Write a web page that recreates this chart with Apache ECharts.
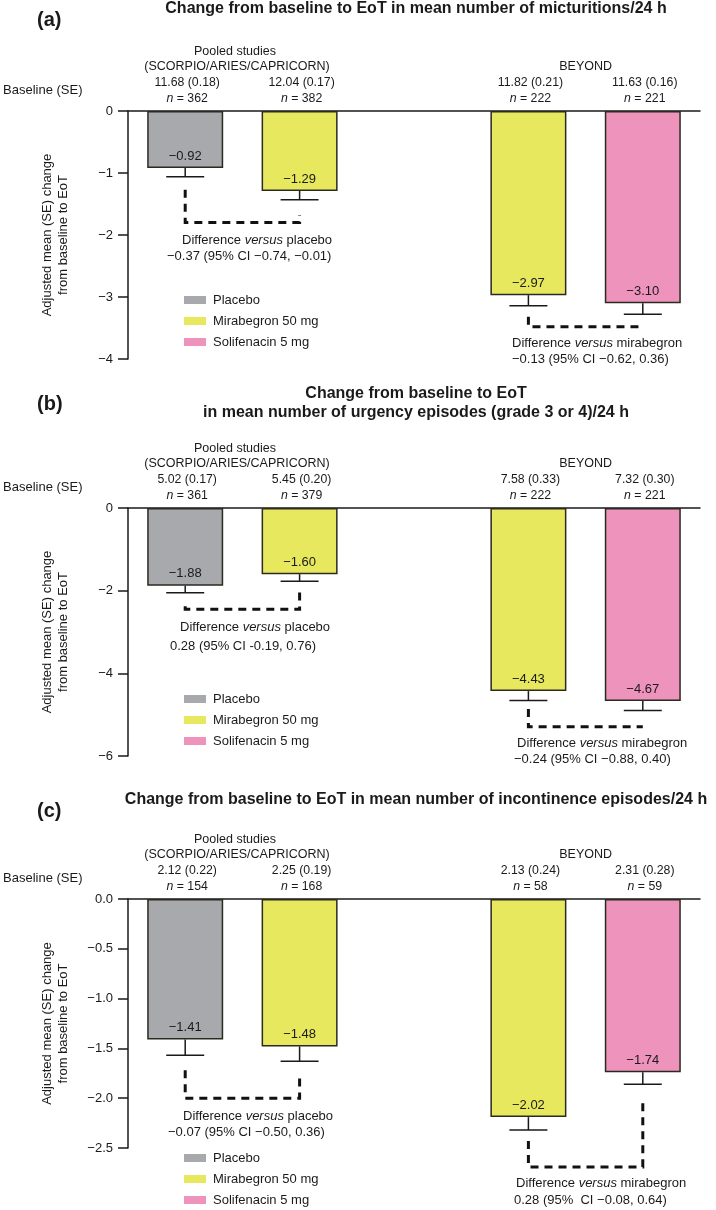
<!DOCTYPE html>
<html>
<head>
<meta charset="utf-8">
<script src="https://cdn.jsdelivr.net/npm/echarts@6/dist/echarts.min.js"></script>
<style>
html,body{margin:0;padding:0;background:#fff;}
#c{width:716px;height:1210px;}
</style>
</head>
<body>
<div id="c"></div>
<script>
// ---------- DATA ----------
const categories = ['Placebo (pooled)', 'Mirabegron 50 mg (pooled)', '', 'Mirabegron 50 mg (BEYOND)', 'Solifenacin 5 mg (BEYOND)'];
const groups = ['Placebo', 'Mirabegron 50 mg', null, 'Mirabegron 50 mg', 'Solifenacin 5 mg'];
const seriesNames = ['Placebo', 'Mirabegron 50 mg', 'Solifenacin 5 mg'];

// Panel (a) micturitions
const meansA = [-0.92, -1.29, null, -2.97, -3.10];
const seA = [0.14, 0.14, null, 0.17, 0.18];
const labelsA = ['−0.92', '−1.29', '', '−2.97', '−3.10'];
const baselineA = ['11.68 (0.18)', '12.04 (0.17)', '', '11.82 (0.21)', '11.63 (0.16)'];
const nA = ['362', '382', '', '222', '221'];
const ticksA = { min: -4, max: 0, interval: 1 };
const connA = [[0, -1.27, 1, -1.68, -1.80], [3, -3.32, 4, -3.48, -3.48]];

// Panel (b) urgency episodes
const meansB = [-1.88, -1.60, null, -4.43, -4.67];
const seB = [0.17, 0.17, null, 0.23, 0.23];
const labelsB = ['−1.88', '−1.60', '', '−4.43', '−4.67'];
const baselineB = ['5.02 (0.17)', '5.45 (0.20)', '', '7.58 (0.33)', '7.32 (0.30)'];
const nB = ['361', '379', '', '222', '221'];
const ticksB = { min: -6, max: 0, interval: 2 };
const connB = [[0, -2.38, 1, -1.98, -2.45], [3, -4.86, 4, -5.29, -5.29]];

// Panel (c) incontinence episodes
const meansC = [-1.41, -1.48, null, -2.19, -1.74];
const seC = [0.16, 0.15, null, 0.13, 0.12];
const labelsC = ['−1.41', '−1.48', '', '−2.02', '−1.74'];
const baselineC = ['2.12 (0.22)', '2.25 (0.19)', '', '2.13 (0.24)', '2.31 (0.28)'];
const nC = ['154', '168', '', '58', '59'];
const ticksC = { min: -2.5, max: 0, interval: 0.5 };
const connC = [[0, -1.72, 1, -1.76, -2.00], [3, -2.43, 4, -1.99, -2.69]];

const titleA = ['Change from baseline to EoT in mean number of micturitions/24 h'];
const titleB = ['Change from baseline to EoT', 'in mean number of urgency episodes (grade 3 or 4)/24 h'];
const titleC = ['Change from baseline to EoT in mean number of incontinence episodes/24 h'];
const diffA = [['placebo', '−0.37 (95% CI −0.74, −0.01)'], ['mirabegron', '−0.13 (95% CI −0.62, 0.36)']];
const diffB = [['placebo', '0.28 (95% CI -0.19, 0.76)'], ['mirabegron', '−0.24 (95% CI −0.88, 0.40)']];
const diffC = [['placebo', '−0.07 (95% CI −0.50, 0.36)'], ['mirabegron', '0.28 (95%  CI −0.08, 0.64)']];

// ---------- STYLE / LAYOUT ----------
const FONT = '"Liberation Sans", Arial, Helvetica, sans-serif';
const INK = '#1a1a1a';
const colors = { 'Placebo': '#a7a9ac', 'Mirabegron 50 mg': '#e8e85e', 'Solifenacin 5 mg': '#ee93bb' };
const GL = 128, GW = 572;
const panels = [
  { tag: '(a)', title: titleA, means: meansA, se: seA, labels: labelsA, base: baselineA, n: nA, ticks: ticksA, conn: connA, diff: diffA,
    top: 111, height: 248, dec: 0, tagY: 20, titleY: [9], legendTop: 292,
    diffPos: [[182, 240, 167, 256], [512, 343, 512, 359]] },
  { tag: '(b)', title: titleB, means: meansB, se: seB, labels: labelsB, base: baselineB, n: nB, ticks: ticksB, conn: connB, diff: diffB,
    top: 508, height: 248, dec: 0, tagY: 404, titleY: [394, 413], legendTop: 691,
    diffPos: [[180, 627, 170, 646], [517, 743, 514, 759]] },
  { tag: '(c)', title: titleC, means: meansC, se: seC, labels: labelsC, base: baselineC, n: nC, ticks: ticksC, conn: connC, diff: diffC,
    top: 899, height: 249, dec: 1, tagY: 811, titleY: [800], legendTop: 1150,
    diffPos: [[183, 1116, 168, 1132], [516, 1183, 514, 1200]] }
];

function txt(x, y, text, o) {
  o = o || {};
  return { type: 'text', x: x, y: y, silent: true, z: 100,
    style: Object.assign({ text: text, fill: INK, fontFamily: FONT, fontSize: o.size || 13,
      fontWeight: o.weight || 'normal', align: o.align || 'center', verticalAlign: 'middle' }, o.extra || {}) };
}
function richTxt(x, y, text, size, align) {
  return { type: 'text', x: x, y: y, silent: true, z: 100,
    style: { text: text, fill: INK, fontFamily: FONT, fontSize: size, align: align || 'center', verticalAlign: 'middle',
      rich: { i: { fontStyle: 'italic', fontFamily: FONT, fontSize: size, fill: INK },
              r: { fontFamily: FONT, fontSize: size, fill: INK } } } };
}

const grid = [], xAxis = [], yAxis = [], series = [], legend = [], graphic = [];
const band = GW / categories.length;
panels.forEach((p, k) => {
  grid.push({ left: GL, top: p.top, width: GW, height: p.height, containLabel: false });
  xAxis.push({ type: 'category', gridIndex: k, data: categories, position: 'top',
    axisLine: { show: true, onZero: true, lineStyle: { color: INK, width: 1.5 } },
    axisTick: { show: false }, axisLabel: { show: false }, splitLine: { show: false } });
  yAxis.push({ type: 'value', gridIndex: k, min: p.ticks.min, max: p.ticks.max, interval: p.ticks.interval,
    name: 'Adjusted mean (SE) change\nfrom baseline to EoT', nameLocation: 'middle', nameGap: 57, nameRotate: 90,
    nameTextStyle: { fontFamily: FONT, fontSize: 13, color: INK, lineHeight: 16 },
    axisLine: { show: true, lineStyle: { color: INK, width: 1.5 } },
    axisTick: { show: true, length: 10, lineStyle: { color: INK, width: 1.5 } },
    axisLabel: { fontFamily: FONT, fontSize: 13, color: INK, margin: 15,
      formatter: v => (v < 0 ? '−' : '') + Math.abs(v).toFixed(p.dec) },
    splitLine: { show: false } });
  seriesNames.forEach(nm => {
    series.push({ type: 'bar', name: nm, xAxisIndex: k, yAxisIndex: k, barWidth: 76, barGap: '-100%',
      data: p.means.map((m, i) => groups[i] === nm ? m : '-'),
      itemStyle: { color: colors[nm], borderColor: '#2a2a20', borderWidth: 1.5 }, silent: true, z: 2 });
  });
  // error bars + value labels
  series.push({ type: 'custom', xAxisIndex: k, yAxisIndex: k, z: 5, silent: true,
    data: p.means.map((m, i) => m == null ? null : [i, m, p.se[i]]).filter(d => d),
    renderItem: (params, api) => {
      const i = api.value(0), m = api.value(1), s = api.value(2);
      const a = api.coord([i, m]), b = api.coord([i, m - s]);
      return { type: 'group', children: [
        { type: 'line', shape: { x1: a[0], y1: a[1], x2: b[0], y2: b[1] }, style: { stroke: INK, lineWidth: 1.5 } },
        { type: 'line', shape: { x1: b[0] - 19, y1: b[1], x2: b[0] + 19, y2: b[1] }, style: { stroke: INK, lineWidth: 1.5 } },
        { type: 'text', x: a[0], y: a[1] - 12, style: { text: p.labels[i], fontFamily: FONT, fontSize: 13, fill: INK, align: 'center', verticalAlign: 'middle' } }
      ] };
    } });
  // dashed connectors
  series.push({ type: 'custom', xAxisIndex: k, yAxisIndex: k, z: 6, silent: true,
    data: p.conn,
    renderItem: (params, api) => {
      const cl = api.value(0), yl = api.value(1), cr = api.value(2), yr = api.value(3), lv = api.value(4);
      const pts = [api.coord([cl, yl]), api.coord([cl, lv]), api.coord([cr, lv]), api.coord([cr, yr])];
      return { type: 'polyline', shape: { points: pts }, style: { stroke: '#111', lineWidth: 3, lineDash: [8, 6], fill: null } };
    } });
  legend.push({ data: seriesNames, orient: 'vertical', left: 184, top: p.legendTop, padding: 0, itemGap: 5,
    itemWidth: 22, itemHeight: 8, icon: 'rect', selectedMode: false,
    itemStyle: { borderWidth: 0 },
    textStyle: { fontFamily: FONT, fontSize: 13, color: INK, lineHeight: 16, padding: [0, 0, 0, 2] } });

  // texts
  graphic.push(txt(37, p.tagY, p.tag, { size: 20, weight: 'bold', align: 'left' }));
  p.title.forEach((t, j) => graphic.push(txt(416, p.titleY[j], t, { size: 16, weight: 'bold' })));
  const z = p.top;
  const cx = i => GL + (i + 0.5) * band;
  graphic.push(txt(235, z - 59, 'Pooled studies', { size: 12.5 }));
  graphic.push(txt(237, z - 44, '(SCORPIO/ARIES/CAPRICORN)', { size: 12.5 }));
  graphic.push(txt((cx(3) + cx(4)) / 2, z - 44, 'BEYOND', { size: 12.5 }));
  graphic.push(txt(3, z - 21, 'Baseline (SE)', { size: 13, align: 'left' }));
  p.base.forEach((b, i) => {
    if (!b) return;
    graphic.push(txt(cx(i) + 2, z - 28, b, { size: 12.3 }));
    graphic.push(richTxt(cx(i) + 2, z - 12, '{i|n}{r| = ' + p.n[i] + '}', 12.3));
  });
  p.diff.forEach((d, j) => {
    const pos = p.diffPos[j];
    graphic.push(richTxt(pos[0], pos[1], '{r|Difference }{i|versus}{r| ' + d[0] + '}', 13, 'left'));
    graphic.push(txt(pos[2], pos[3], d[1], { size: 13, align: 'left' }));
  });
});

const chart = echarts.init(document.getElementById('c'), null, { renderer: 'canvas' });
chart.setOption({ backgroundColor: '#fff', animation: false, grid, xAxis, yAxis, series, legend, graphic });
</script>
</body>
</html>
